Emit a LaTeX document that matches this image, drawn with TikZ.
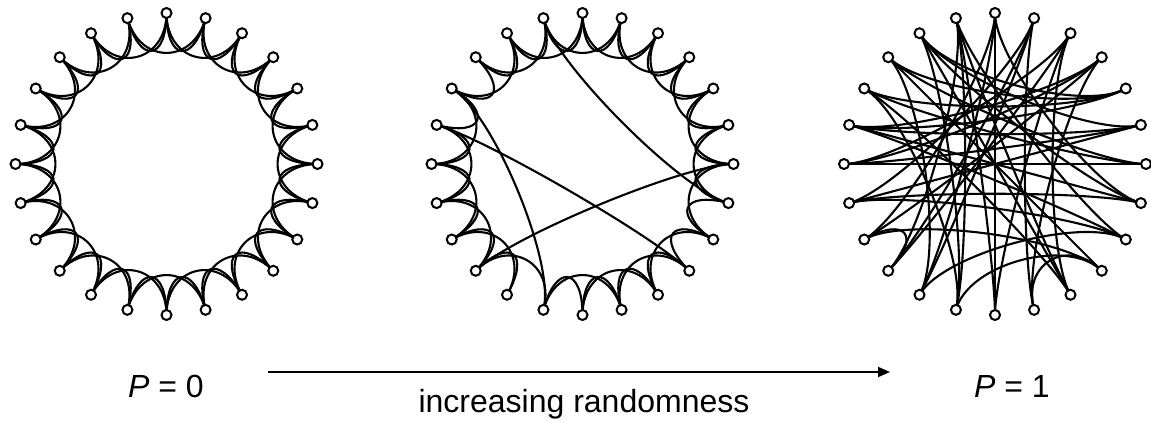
\documentclass[tikz,border=0pt]{standalone}
\usepackage{fontspec}
\setmainfont{Liberation Sans}
\usetikzlibrary{calc,arrows.meta}
\pgfdeclarelayer{bg}
\pgfsetlayers{bg,main}
\tikzset{
  vtx/.style={circle,draw,line width=2pt,fill=white,minimum size=10pt,inner sep=0pt},
  edge/.style={line width=2.1pt},
  lbl/.style={font=\fontsize{32}{36}\selectfont,inner sep=0pt,anchor=base},
}
\newcommand\ringedge[3]{%
  \draw[edge] (#1#2.center) .. controls ($(#1#2.center)!48pt!(#1c)$) and ($(#1#3.center)!48pt!(#1c)$) .. (#1#3.center);}
\begin{document}
\begin{tikzpicture}[x=1pt,y=1pt]
\useasboundingbox (0,0) rectangle (1151,421);
\coordinate (Lc) at (166.5,257);
\coordinate (Mc) at (582.5,257);
\coordinate (Rc) at (995,257);
\foreach \r in {L,M,R}{
  \foreach \k in {0,...,23}{
    \node[vtx] (\r\k) at ($(\r c)+({90-15*\k}:151)$) {};
  }
}
\begin{pgfonlayer}{bg}
% P = 0 : regular ring lattice
\foreach \k in {0,...,23}{
  \pgfmathtruncatemacro\ka{mod(\k+1,24)}
  \pgfmathtruncatemacro\kb{mod(\k+2,24)}
  \ringedge{L}{\k}{\ka}
  \ringedge{L}{\k}{\kb}
}
% small-world ring
\foreach \a/\b in {0/1,0/2,1/2,1/3,2/3,2/4,3/4,3/5,4/5,4/6,5/6,5/7,6/7,6/8,7/8,
  8/9,8/10,9/10,9/11,10/11,10/12,11/12,11/13,12/13,13/15,14/15,14/16,15/16,15/17,
  16/17,16/18,17/18,17/19,18/19,18/20,19/20,20/21,20/22,21/22,21/23,22/23,22/0,
  23/0,23/1,23/7,20/13,19/9,15/6}{
  \ringedge{M}{\a}{\b}
}
% random ring
\foreach \a/\b in {0/16,0/12,0/14,0/7,23/12,23/10,23/15,23/13,23/8,
  22/4,22/5,22/7,22/13,22/10,21/4,21/14,21/9,21/6,20/4,20/13,20/10,20/6,
  19/5,19/8,19/3,19/4,19/7,18/6,18/3,18/2,18/5,17/5,17/7,17/8,16/15,16/3,
  15/2,15/1,14/8,14/1,13/9,12/2,11/1,11/9,11/3,10/2,9/16,17/1}{
  \ringedge{R}{\a}{\b}
}
\end{pgfonlayer}
\coordinate (as) at (268,49);
\coordinate (ae) at (890,49);
\draw[line width=1.8pt,-{Triangle[length=12pt,width=10pt]}] (as) -- (ae);
\node[lbl] (p0) at (166,24) {\textit{P} = 0};
\node[lbl] (p1) at (1012,24) {\textit{P} = 1};
\node[lbl] (inc) at (584,9) {increasing randomness};
\end{tikzpicture}
\end{document}
